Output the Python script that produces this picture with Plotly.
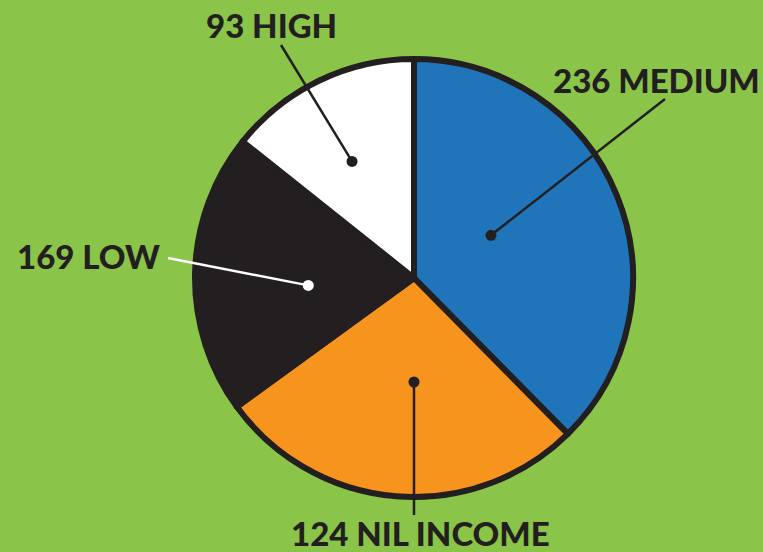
import math
import plotly.graph_objects as go

# ---- data ----
categories = ["MEDIUM", "NIL INCOME", "LOW", "HIGH"]
counts = [236, 124, 169, 93]                 # numbers printed in the labels
slice_share = [37.6, 27.4, 20.7, 14.3]       # slice sizes as drawn in the picture (%)
colors = ["#1F74BA", "#F7941E", "#231F20", "#FFFFFF"]

W, H = 763, 552
BG = "#8AC449"
INK = "#231F20"

cx, cy, R = 414, 278, 219  # pie centre / radius (pixels)


def px(x):
    return x / W


def py(y):
    return 1 - y / H


fig = go.Figure(go.Pie(
    labels=categories,
    values=slice_share,
    sort=False,
    direction="clockwise",
    rotation=0,
    marker=dict(colors=colors, line=dict(color=INK, width=6)),
    textinfo="none",
    hoverinfo="label+value",
    showlegend=False,
    domain=dict(x=[px(cx - R), px(cx + R)], y=[py(cy + R), py(cy - R)]),
))

# label layout: (text centre x, text centre y, line start x, line start y,
#                dot angle deg clockwise from top, dot radius px, line colour)
label_layout = {
    "HIGH": (271, 25, 281, 45, 332, 132, INK),
    "MEDIUM": (656, 80, 665, 99, 61, 88, INK),
    "LOW": (88, 256, 168, 258, 266, 106, "#FFFFFF"),
    "NIL INCOME": (420, 533, 414, 515, 180, 104, INK),
}

shapes = []
annotations = []
for cat, cnt in zip(categories, counts):
    tx, ty, lx, ly, ang, rr, col = label_layout[cat]
    a = math.radians(ang)
    dx = cx + rr * math.sin(a)
    dy = cy - rr * math.cos(a)
    shapes.append(dict(type="line", xref="paper", yref="paper",
                       x0=px(lx), y0=py(ly), x1=px(dx), y1=py(dy),
                       line=dict(color=col, width=2.5)))
    r = 5.5
    shapes.append(dict(type="circle", xref="paper", yref="paper",
                       x0=px(dx - r), x1=px(dx + r), y0=py(dy + r), y1=py(dy - r),
                       fillcolor=col, line=dict(color=col, width=0)))
    annotations.append(dict(
        text=f"{cnt} {cat}", x=px(tx), y=py(ty), xref="paper", yref="paper",
        xanchor="center", yanchor="middle", showarrow=False,
        font=dict(family="Lato", size=33, color=INK, weight=900),
    ))

fig.update_layout(
    width=W, height=H,
    margin=dict(l=0, r=0, t=0, b=0),
    paper_bgcolor=BG, plot_bgcolor=BG,
    shapes=shapes, annotations=annotations,
)

fig.write_html("out.html")
